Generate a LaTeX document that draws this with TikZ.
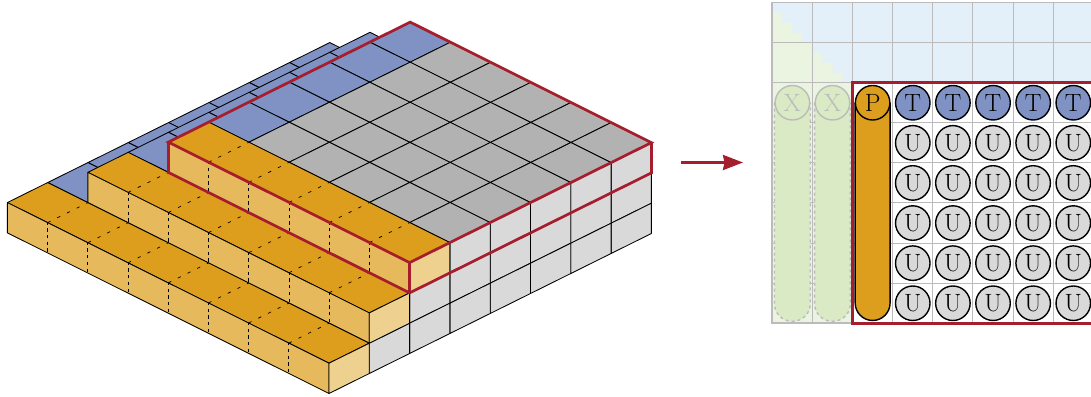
\documentclass[tikz,border=0pt]{standalone}
\usetikzlibrary{arrows.meta}
\definecolor{cblue}{HTML}{7F92C3}
\definecolor{cgray}{HTML}{B2B2B2}
\definecolor{cwall}{HTML}{D9D9D9}
\definecolor{corange}{HTML}{DC9E1C}
\definecolor{cowall}{HTML}{E6BA5C}
\definecolor{cowalb}{HTML}{EFD18F}
\definecolor{cred}{HTML}{A61E2D}
\definecolor{cgrid}{HTML}{BBBBBB}
\definecolor{cpaleb}{HTML}{E3F0FA}
\definecolor{cpaleg}{HTML}{EBF4E1}
\definecolor{cgreen}{HTML}{D9EAC5}
\tikzset{
  iso/.style={x={(-40.2pt,20.08pt)},y={(40.3pt,20pt)},z={(0pt,30.3pt)},shift={(329pt,2.5pt)}},
  thinblk/.style={draw=black,line width=0.85pt,line join=round},
  dashtop/.style={draw=black,line width=0.7pt,dash pattern=on 3.3pt off 7.5pt},
  dashwall/.style={draw=black,line width=0.65pt,dash pattern=on 3.3pt off 3.4pt,dash phase=1pt},
  redline/.style={draw=cred,line width=2.7pt,line join=miter},
  gridline/.style={draw=cgrid,line width=1pt},
  cell/.style={circle,draw=black,line width=1.4pt,minimum size=34.5pt,inner sep=0pt,font=\fontsize{25}{25}\selectfont},
  ucell/.style={cell,fill=cwall},
  tcell/.style={cell,fill=cblue},
  pcell/.style={cell,fill=corange},
  xcell/.style={cell,draw=cgrid,fill=cgreen,text=cgrid}
}
\begin{document}
\begin{tikzpicture}[x=1pt,y=1pt]
\useasboundingbox (0,0) rectangle (1091,396);
\clip (0,0) rectangle (1091,396);
% ---------- isometric block ----------
\begin{scope}[iso]
  % blue strips, back to front
  \foreach \j in {7,...,1} \filldraw[fill=cblue,thinblk] (8,\j,1)--(7,\j,1)--(7,\j+1,1)--(8,\j+1,1)--cycle;
  \foreach \j in {7,...,2} \filldraw[fill=cblue,thinblk] (7,\j,2)--(6,\j,2)--(6,\j+1,2)--(7,\j+1,2)--cycle;
  \foreach \j in {7,...,3} \filldraw[fill=cblue,thinblk] (6,\j,3)--(5,\j,3)--(5,\j+1,3)--(6,\j+1,3)--cycle;
  % gray top
  \foreach \i in {4,...,0} \foreach \j in {7,...,3}
    \filldraw[fill=cgray,thinblk] (\i+1,\j,3)--(\i,\j,3)--(\i,\j+1,3)--(\i+1,\j+1,3)--cycle;
  % gray end walls
  \foreach \j in {7,...,3} \foreach \z in {2,1,0}
    \filldraw[fill=cwall,thinblk] (0,\j,\z)--(0,\j+1,\z)--(0,\j+1,\z+1)--(0,\j,\z+1)--cycle;
  \foreach \z in {1,0} \filldraw[fill=cwall,thinblk] (0,2,\z)--(0,3,\z)--(0,3,\z+1)--(0,2,\z+1)--cycle;
  \filldraw[fill=cwall,thinblk] (0,1,0)--(0,2,0)--(0,2,1)--(0,1,1)--cycle;
  % orange strip z=3
  \filldraw[fill=corange,thinblk] (6,2,3)--(0,2,3)--(0,3,3)--(6,3,3)--cycle;
  \filldraw[fill=cowall,thinblk] (6,2,2)--(0,2,2)--(0,2,3)--(6,2,3)--cycle;
  \filldraw[fill=cowalb,thinblk] (0,2,2)--(0,3,2)--(0,3,3)--(0,2,3)--cycle;
  \foreach \i in {1,...,5} {
    \draw[dashtop] (\i,2,3)--(\i,3,3);
    \draw[dashwall] (\i,2,3)--(\i,2,2);
  }
  % orange strip z=2
  \filldraw[fill=corange,thinblk] (7,1,2)--(0,1,2)--(0,2,2)--(7,2,2)--cycle;
  \filldraw[fill=cowall,thinblk] (7,1,1)--(0,1,1)--(0,1,2)--(7,1,2)--cycle;
  \filldraw[fill=cowalb,thinblk] (0,1,1)--(0,2,1)--(0,2,2)--(0,1,2)--cycle;
  \foreach \i in {1,...,6} {
    \draw[dashtop] (\i,1,2)--(\i,2,2);
    \draw[dashwall] (\i,1,2)--(\i,1,1);
  }
  % orange strip z=1
  \filldraw[fill=corange,thinblk] (8,0,1)--(0,0,1)--(0,1,1)--(8,1,1)--cycle;
  \filldraw[fill=cowall,thinblk] (8,0,0)--(0,0,0)--(0,0,1)--(8,0,1)--cycle;
  \filldraw[fill=cowalb,thinblk] (0,0,0)--(0,1,0)--(0,1,1)--(0,0,1)--cycle;
  \foreach \i in {1,...,7} {
    \draw[dashtop] (\i,0,1)--(\i,1,1);
    \draw[dashwall] (\i,0,1)--(\i,0,0);
  }
  % red outline
  \draw[redline] (6,2,3)--(6,8,3)--(0,8,3)--(0,2,3)--cycle;
  \draw[redline] (6,2,3)--(6,2,2)--(0,2,2)--(0,8,2)--(0,8,3);
  \draw[redline] (0,2,3)--(0,2,2);
\end{scope}
% ---------- arrow ----------
\coordinate (arrowa) at (681,233.5);
\coordinate (arrowb) at (743,233.5);
\draw[cred,line width=2.7pt,-{Stealth[length=20pt,width=15pt,inset=1.5pt]}] (arrowa)--(arrowb);
% ---------- grid ----------
\begin{scope}[shift={(772.3,393.5)},x=40.13pt,y=-40.1pt]
  \fill[cpaleb] (0,0) rectangle (8.1,2);
  \fill[cpaleg] (0,0.25) -- (0.25,0.25) -- (0.25,0.5) -- (0.5,0.5) -- (0.5,0.75) -- (0.75,0.75) -- (0.75,1) -- (1,1) -- (1,1.25) -- (1.25,1.25) -- (1.25,1.5) -- (1.5,1.5) -- (1.5,1.75) -- (1.75,1.75) -- (1.75,2) -- (2,2) -- (2,8) -- (0,8) -- cycle;
  \foreach \x in {1,...,8} \draw[gridline] (\x,0)--(\x,8);
  \foreach \y in {1,...,7} \draw[gridline] (0,\y)--(8.1,\y);
  \draw[cgrid,line width=1.9pt] (8.1,0)--(0,0)--(0,8)--(2,8);
  % X capsules
  \foreach \x in {0,1}
    \draw[draw=cgrid,fill=cgreen,dash pattern=on 3pt off 3pt,line width=1.4pt,rounded corners=17.5pt]
      (\x+0.055,2.5)--(\x+0.055,7.95)--(\x+0.945,7.95)--(\x+0.945,2.5);
  \draw[redline] (8.2,2)--(2,2)--(2,8)--(8.2,8);
  % P capsule
  \draw[black,fill=corange,line width=1.4pt,rounded corners=17.5pt]
      (2.065,2.5)--(2.065,7.93)--(2.935,7.93)--(2.935,2.5);
  \node[xcell] (x1) at (0.5,2.5) {X};
  \node[xcell] (x2) at (1.5,2.5) {X};
  \node[pcell] (p) at (2.5,2.5) {P};
  \foreach \x in {3,...,7} {
    \node[tcell] (t\x) at (\x+0.5,2.5) {T};
    \foreach \y in {3,...,7}
      \node[ucell] (u\x\y) at (\x+0.5,\y+0.5) {U};
  }
\end{scope}
\end{tikzpicture}
\end{document}
